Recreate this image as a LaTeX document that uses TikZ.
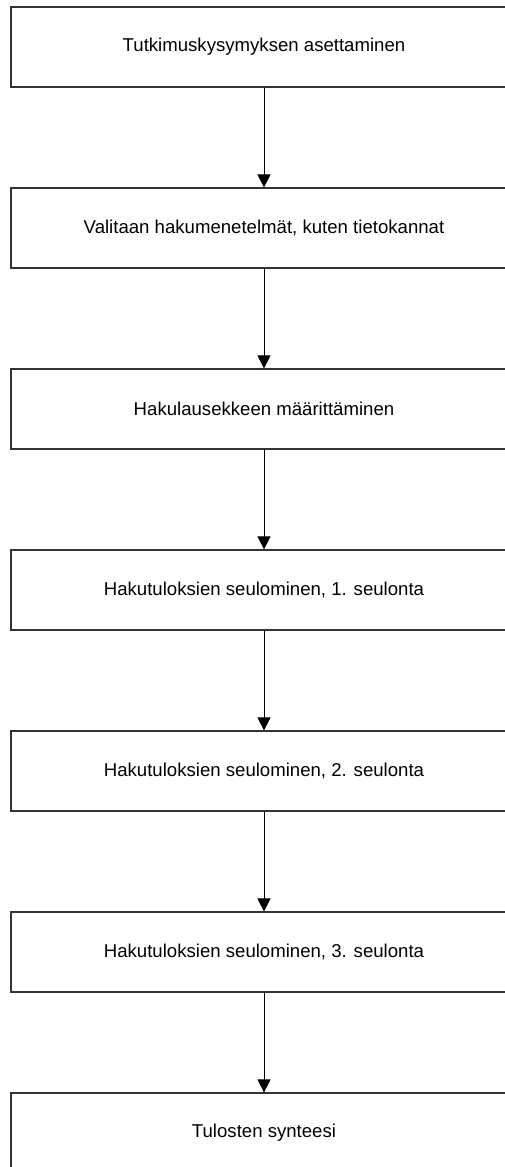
\documentclass[tikz,border=0pt]{standalone}
\usepackage{fontspec}
\setmainfont{Liberation Sans}
\usetikzlibrary{arrows.meta}

\begin{document}
\begin{tikzpicture}[x=1pt,y=1pt,
    vaihe/.style={draw=black!80,line width=1.2pt,minimum width=506pt,minimum height=80pt,inner sep=0pt,
      font=\fontsize{18.6}{22}\selectfont},
    nuoli/.style={-{Triangle[width=13pt,length=13pt]},line width=0.9pt}]

    \useasboundingbox (0,0) rectangle (505,-1167);

    % vaiheet
    \foreach \i/\teksti in {1/Tutkimuskysymyksen asettaminen,
        2/{Valitaan hakumenetelmät, kuten tietokannat},
        3/Hakulausekkeen määrittäminen,
        4/{Hakutuloksien seulominen, 1. seulonta},
        5/{Hakutuloksien seulominen, 2. seulonta},
        6/{Hakutuloksien seulominen, 3. seulonta},
        7/Tulosten synteesi}{
      \node[vaihe] (v\i) at (264,{-47-181*(\i-1)}) {\teksti};
    }

    \foreach \i/\j in {1/2,2/3,3/4,4/5,5/6,6/7}{
      \draw[nuoli] (v\i.south) -- (v\j.north);
    }

\end{tikzpicture}
\end{document}
